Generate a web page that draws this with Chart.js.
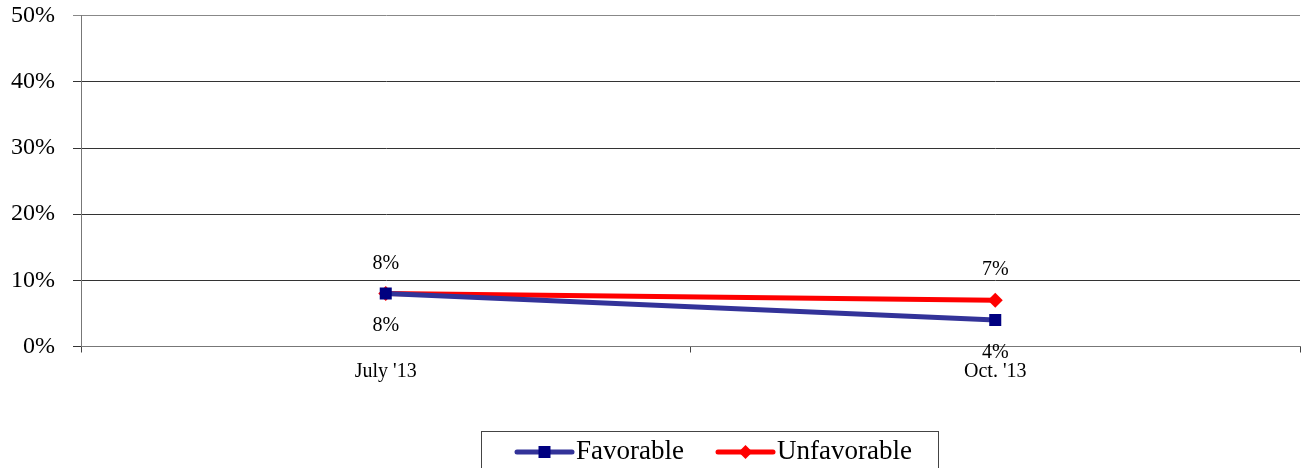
<!DOCTYPE html>
<html>
<head>
<meta charset="UTF-8">
<title>Favorable / Unfavorable</title>
<script src="https://cdn.jsdelivr.net/npm/chart.js"></script>
<style>
    body { margin: 0; background: #fff; }
    #wrap { width: 1301px; height: 468px; }
</style>
</head>
<body>
<div id="wrap"><canvas id="trendChart" width="1301" height="468"></canvas></div>
<script>
    var periods = ["July '13", "Oct. '13"];
    var favorable = [8, 4];
    var unfavorable = [8, 7];
    var yTicks = [0, 10, 20, 30, 40, 50];

    var serif = "'Liberation Serif', 'Times New Roman', serif";

    // value labels next to each point (favorable below, unfavorable above)
    var pointLabels = {
        id: 'pointLabels',
        afterDatasetsDraw: function(chart) {
            var ctx = chart.ctx;
            ctx.save();
            ctx.font = '20px ' + serif;
            ctx.fillStyle = '#000';
            ctx.textAlign = 'center';
            ctx.textBaseline = 'middle';
            chart.data.datasets.forEach(function(ds, i) {
                var meta = chart.getDatasetMeta(i);
                meta.data.forEach(function(pt, j) {
                    var off = ds.labelBelow ? 32.5 : -30;
                    ctx.fillText(ds.data[j] + '%', pt.x, pt.y + off);
                });
            });
            ctx.restore();
        }
    };

    // boxed legend with line + marker swatches
    var boxLegend = {
        id: 'boxLegend',
        afterDraw: function(chart) {
            var ctx = chart.ctx;
            ctx.save();
            ctx.strokeStyle = '#444';
            ctx.lineWidth = 1;
            ctx.strokeRect(481.5, 431.5, 457, 60);
            ctx.font = '27px ' + serif;
            ctx.textBaseline = 'middle';
            ctx.fillStyle = '#000';
            var x = 517, y = 452;
            chart.data.datasets.forEach(function(ds) {
                ctx.strokeStyle = ds.borderColor;
                ctx.lineWidth = 5;
                ctx.lineCap = 'round';
                ctx.beginPath();
                ctx.moveTo(x, y);
                ctx.lineTo(x + 55, y);
                ctx.stroke();
                ctx.fillStyle = ds.pointBackgroundColor;
                ctx.beginPath();
                if (ds.pointStyle === 'rect') {
                    ctx.rect(x + 21.5, y - 6, 12, 12);
                } else {
                    ctx.moveTo(x + 27.5, y - 7);
                    ctx.lineTo(x + 34.5, y);
                    ctx.lineTo(x + 27.5, y + 7);
                    ctx.lineTo(x + 20.5, y);
                    ctx.closePath();
                }
                ctx.fill();
                ctx.fillStyle = '#000';
                ctx.fillText(ds.label, x + 59, y);
                x += 201;
            });
            ctx.restore();
        }
    };

    var ctx = document.getElementById('trendChart').getContext('2d');
    var trendChart = new Chart(ctx, {
        type: 'line',
        data: {
            labels: periods,
            datasets: [{
                label: 'Favorable',
                data: favorable,
                borderColor: '#333399',
                borderWidth: 5,
                pointStyle: 'rect',
                pointRadius: 8.5,
                pointBackgroundColor: '#000080',
                pointBorderColor: '#000080',
                pointBorderWidth: 0,
                tension: 0,
                labelBelow: true
            }, {
                label: 'Unfavorable',
                data: unfavorable,
                borderColor: '#ff0000',
                borderWidth: 5,
                pointStyle: 'rectRot',
                pointRadius: 7.5,
                pointBackgroundColor: '#ff0000',
                pointBorderColor: '#ff0000',
                pointBorderWidth: 0,
                tension: 0,
                labelBelow: false
            }]
        },
        options: {
            responsive: false,
            animation: false,
            layout: { autoPadding: false, padding: { top: 15.7, right: 1, left: 0, bottom: 0 } },
            plugins: {
                legend: { display: false },
                title: { display: false },
                tooltip: { enabled: false }
            },
            scales: {
                x: {
                    offset: true,
                    afterFit: function(scale) {
                        scale.height = 121.5;
                        scale.paddingLeft = 0;
                        scale.paddingRight = 0;
                    },
                    grid: {
                        offset: true,
                        drawOnChartArea: false,
                        drawTicks: true,
                        tickLength: 6,
                        color: '#444'
                    },
                    border: { display: true, color: '#777' },
                    ticks: {
                        color: '#000',
                        font: { family: serif, size: 20 },
                        padding: 7,
                        maxRotation: 0
                    }
                },
                y: {
                    min: 0,
                    max: 50,
                    afterFit: function(scale) {
                        scale.width = 81;
                        scale.paddingTop = 0;
                        scale.paddingBottom = 0;
                    },
                    afterBuildTicks: function(scale) {
                        scale.ticks = yTicks.map(function(v) { return { value: v }; });
                    },
                    grid: {
                        color: function(c) { return c.tick && c.tick.value === 50 ? '#888' : '#333'; },
                        tickLength: 8
                    },
                    border: { display: true, color: '#777' },
                    ticks: {
                        color: '#000',
                        font: { family: serif, size: 24 },
                        padding: 18,
                        callback: function(v) { return v + '%'; }
                    }
                }
            }
        },
        plugins: [pointLabels, boxLegend]
    });
</script>
</body>
</html>
